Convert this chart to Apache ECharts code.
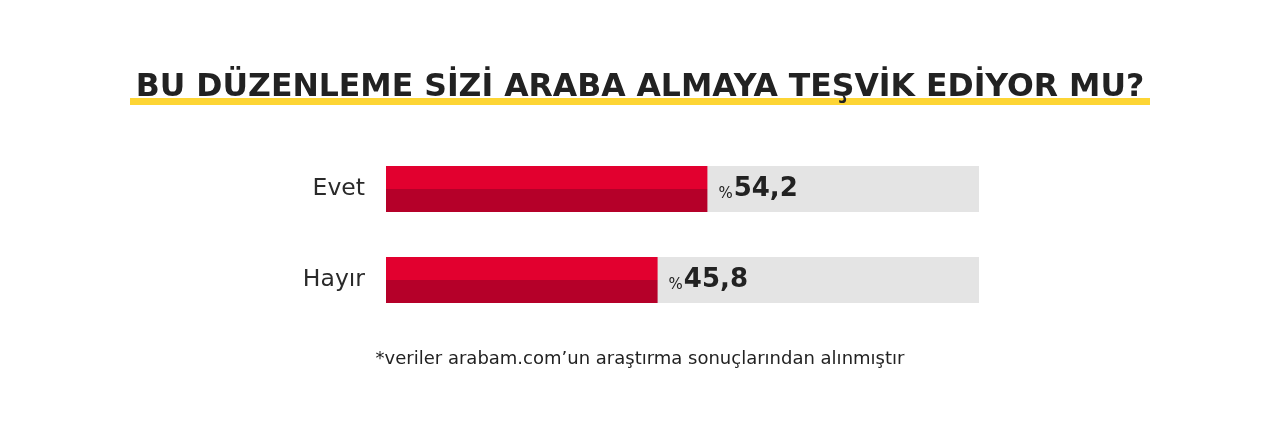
<!DOCTYPE html>
<html><head><meta charset="utf-8">
<script src="https://cdn.jsdelivr.net/npm/echarts@6/dist/echarts.min.js"></script>
<style>html,body{margin:0;padding:0;background:#fff}#c{width:1280px;height:424px}</style>
</head><body><div id="c"></div>
<script>
const titleText = 'BU DÜZENLEME SİZİ ARABA ALMAYA TEŞVİK EDİYOR MU?';
const footnote = '*veriler arabam.com’un araştırma sonuçlarından alınmıştır';
const categories = ['Evet', 'Hayır'];
const values = [54.2, 45.8];
const fullScale = [100, 100];

const chart = echarts.init(document.getElementById('c'));
chart.setOption({
  animation: false,
  backgroundColor: '#ffffff',
  graphic: [
    { type: 'rect', shape: { x: 130, y: 98, width: 1020, height: 7 }, style: { fill: '#FDD535' }, z: 1 },
    { type: 'text', left: 'center', top: 72, z: 2,
      style: { text: titleText, font: 'bold 31.5px "DejaVu Sans"', fill: '#222222' } },
    { type: 'text', left: 'center', top: 350, z: 2,
      style: { text: footnote, font: '400 18px "DejaVu Sans"', fill: '#222222' } }
  ],
  grid: { left: 386, right: 301, top: 143.5, bottom: 98.5 },
  xAxis: { type: 'value', min: 0, max: 100, show: false },
  yAxis: {
    type: 'category', data: categories, inverse: true,
    axisLine: { show: false }, axisTick: { show: false },
    axisLabel: { fontFamily: 'DejaVu Sans', fontSize: 23.5, fontWeight: 400, color: '#2a2a2a', margin: 21 }
  },
  series: [
    { type: 'bar', data: fullScale, barWidth: 46, barGap: '-100%', silent: true,
      itemStyle: { color: '#E4E4E4' }, z: 1 },
    { type: 'bar', data: values, barWidth: 46, z: 2,
      itemStyle: {
        color: { type: 'linear', x: 0, y: 0, x2: 0, y2: 1, colorStops: [
          { offset: 0, color: '#E2002F' }, { offset: 0.5, color: '#E2002F' },
          { offset: 0.5, color: '#B50029' }, { offset: 1, color: '#B50029' } ] }
      },
      label: {
        show: true, position: 'right', distance: 11,
        formatter: p => '{p|%}{v|' + p.value.toFixed(1).replace('.', ',') + '}',
        rich: {
          p: { fontFamily: 'DejaVu Sans', fontSize: 15, fontWeight: 400, color: '#222222', verticalAlign: 'bottom', padding: [5, 1, 0, 0] },
          v: { fontFamily: 'DejaVu Sans', fontSize: 26, fontWeight: 700, color: '#222222' }
        }
      }
    }
  ]
});
</script></body></html>
